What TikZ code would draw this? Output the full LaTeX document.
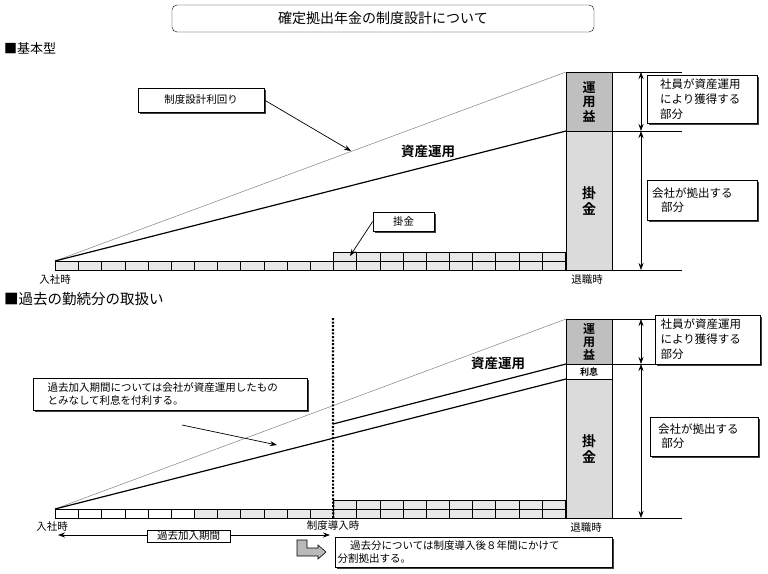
\documentclass[tikz,border=0pt]{standalone}
\usepackage{fontspec}
\setmainfont{Noto Sans CJK JP}[BoldFont={Noto Sans CJK JP Bold}]
\usetikzlibrary{arrows.meta, positioning, shadows}

\tikzset{
  lbl/.style={draw, fill=white, line width=0.7pt,
    drop shadow={opacity=1, fill=black!75, shadow xshift=1.5pt, shadow yshift=-1.5pt}},
  brick/.style={draw, line width=0.4pt, fill=gray!18, minimum width=23.18pt,
    minimum height=9pt, inner sep=0pt, anchor=south west},
  gain/.style={draw, fill=gray!50, anchor=north west, minimum width=46pt, align=center, inner sep=1pt},
  kake/.style={draw, fill=gray!28, anchor=north west, minimum width=46pt, align=center,
    font=\bfseries\fontsize{14}{16}\selectfont},
  dimarr/.style={{Stealth[length=7pt, width=5pt]}-{Stealth[length=7pt, width=5pt]}, line width=0.6pt},
  ptr/.style={-{Stealth[length=7pt, width=5pt]}, line width=0.7pt},
  rate/.style={gray, line width=0.5pt},
  asset/.style={line width=1.2pt},
  big/.style={font=\bfseries\fontsize{13.5}{15}\selectfont},
}

\begin{document}
\begin{tikzpicture}[x=1pt, y=-1pt, font=\fontsize{10.5}{13.3}\selectfont]
\useasboundingbox (0,0) rectangle (768,573);

% タイトル
\node[draw, rounded corners=5pt, minimum width=422pt, minimum height=27pt,
  font=\fontsize{14}{16}\selectfont] (title) at (383,18.5) {確定拠出年金の制度設計について};

%% ---- 基本型 ----
\node[anchor=west, inner sep=0pt, font=\fontsize{13}{15}\selectfont] (h1) at (4,49) {■基本型};

% 掛金の積み上げ
\foreach \i in {0,...,21} \node[brick] (a\i) at (55+\i*23.18,270) {};
\foreach \i in {12,...,21} \node[brick] (b\i) at (55+\i*23.18,261) {};

% 柱
\node[gain, minimum height=59pt, font=\bfseries\fontsize{13}{14.5}\selectfont] (eki1) at (566,72) {運\\用\\益};
\node[kake, minimum height=139pt] (kin1) at (566,131) {掛\\金};

% 利回りの線
\coordinate (o1) at (55,261);
\draw[rate] (o1) -- (eki1.north west);
\draw[asset] (o1) -- (kin1.north west);
\node[big] (shisan1) at (428,151) {資産運用};

% 右側の線と矢印
\coordinate (r1) at (682,72);
\coordinate (r2) at (682,131);
\coordinate (e1) at (682,270);
\draw[line width=0.8pt] (eki1.north east) -- (r1);
\draw[line width=0.8pt] (kin1.north east) -- (r2);
\draw[line width=0.8pt] (a0.south west) -- (e1);
\coordinate (p1) at (641,72);
\coordinate (p2) at (641,131);
\coordinate (p3) at (641,270);
\draw[dimarr] (p1) -- (p2);
\draw[dimarr] (p2) -- (p3);

\node[lbl, minimum width=110pt, minimum height=45pt, text width=84pt, align=left,
  font=\fontsize{11.5}{15}\selectfont] (own1) at (702,99.5) {社員が資産運用\\により獲得する\\部分};
\node[lbl, minimum width=110pt, minimum height=40pt, text width=100pt, align=left,
  font=\fontsize{11.5}{14}\selectfont] (com1) at (702,200) {会社が拠出する\\\hspace{0.8em}部分};

% 注記
\node[lbl, minimum width=126pt, minimum height=24pt] (rate) at (201,100) {制度設計利回り};
\coordinate (rateend) at (351,151);
\draw[ptr] (rate.east) -- (rateend);
\node[lbl, minimum width=61pt, minimum height=19pt] (kk) at (403.5,221.5) {掛金};
\coordinate (kkend) at (350,256);
\draw[ptr] (kk.west) -- (kkend);

\node (join1) at (55,279) {入社時};
\node (ret1) at (587,279) {退職時};

%% ---- 過去の勤続分 ----
\node[anchor=west, inner sep=0pt, font=\fontsize{14.5}{16}\selectfont] (h2) at (4,299) {■過去の勤続分の取扱い};

\foreach \i in {0,...,5} \node[brick, fill=white] (c\i) at (55+\i*23.18,518) {};
\foreach \i in {6,...,21} \node[brick] (c\i) at (55+\i*23.18,518) {};
\foreach \i in {12,...,21} \node[brick] (d\i) at (55+\i*23.18,509) {};

% 柱
\node[gain, minimum height=45pt, font=\bfseries\fontsize{12}{13}\selectfont] (eki2) at (566,319) {運\\用\\益};
\node[draw, fill=white, minimum width=46pt, minimum height=15pt, anchor=north west, inner sep=0pt,
  font=\bfseries\fontsize{9}{10}\selectfont] (ri2) at (566,364) {利息};
\node[kake, minimum height=139pt] (kin2) at (566,379) {掛\\金};

% 線
\coordinate (o2) at (55,509);
\coordinate (s2) at (333,424);
\draw[rate] (o2) -- (eki2.north west);
\draw[asset] (o2) -- (kin2.north west);
\draw[asset] (s2) -- (ri2.north west);
\node[big] (shisan2) at (498,363) {資産運用};

% 制度導入時
\coordinate (dtop) at (333,318);
\draw[line width=2.2pt, dash pattern=on 2pt off 1.6pt] (dtop) -- (c12.south west);

% 右側
\coordinate (r3) at (655,319);
\coordinate (r4) at (682,364);
\coordinate (e2) at (682,518);
\draw[line width=0.8pt] (eki2.north east) -- (r3);
\draw[line width=0.8pt] (ri2.north east) -- (r4);
\draw[line width=0.8pt] (c0.south west) -- (e2);
\coordinate (q1) at (641,319);
\coordinate (q2) at (641,364);
\coordinate (q3) at (641,518);
\draw[dimarr] (q1) -- (q2);
\draw[dimarr] (q2) -- (q3);

\node[lbl, minimum width=105pt, minimum height=49pt, text width=94pt, align=left,
  font=\fontsize{11.5}{15}\selectfont] (own2) at (707.5,339.5) {社員が資産運用\\により獲得する\\部分};
\node[lbl, minimum width=108pt, minimum height=39pt, text width=92pt, align=left,
  font=\fontsize{11.5}{14}\selectfont] (com2) at (704,436.5) {会社が拠出する\\\hspace{0.3em}部分};

% 付利の注記
\node[lbl, minimum width=274pt, minimum height=32pt, text width=245pt, align=left] (past) at (170,394)
  {過去加入期間については会社が資産運用したもの\\とみなして利息を付利する。};
\coordinate (pa) at (182,425);
\coordinate (pb) at (277,445);
\draw[ptr] (pa) -- (pb);

\node (join2) at (52,526) {入社時};
\node (intro) at (333,526) {制度導入時};
\node (ret2) at (586,527) {退職時};

% 過去加入期間
\coordinate (k1) at (58,535);
\coordinate (k2) at (330,535);
\draw[dimarr] (k1) -- (k2);
\node[draw, fill=white, minimum width=83pt, minimum height=12pt, inner ysep=0.5pt] (period) at (188.5,536) {過去加入期間};

% 分割拠出
\draw[fill=gray!55, line width=0.6pt] (297,540) -- (307,540) -- (307,548) -- (318,548) -- (318,545)
  -- (326,552) -- (318,559) -- (318,556) -- (297,556) -- cycle;
\node[lbl, minimum width=277pt, minimum height=30pt, text width=272pt, inner xsep=2pt, align=left] (split) at (473.5,552)
  {\hspace{1.2em}過去分については制度導入後８年間にかけて\\分割拠出する。};
\end{tikzpicture}
\end{document}
